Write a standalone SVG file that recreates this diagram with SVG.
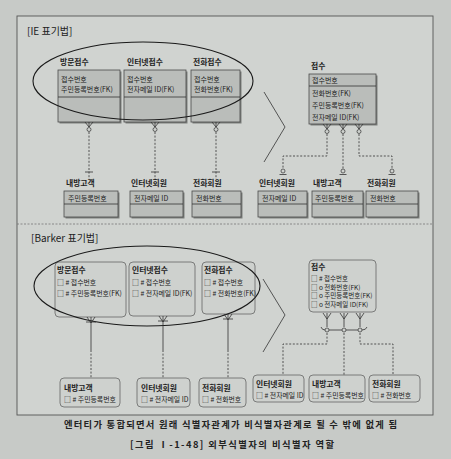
<svg xmlns="http://www.w3.org/2000/svg" width="451" height="459" viewBox="0 0 451 459">
<style>
text{font-family:"Noto Sans CJK KR","Noto Sans",sans-serif;fill:#222}
.sec{font-size:10px}
.lbl{font-size:7.8px;font-weight:bold}
.row{font-size:7px}
.brow{font-size:6.9px}
.mrow{font-size:6.5px}
.cap{font-size:9.3px;font-weight:bold}
.ie{fill:#babdba;stroke:#4a4a4a;stroke-width:0.8}
.sh{fill:#7d807d}
.bk{fill:#ced1ce;stroke:#666;stroke-width:0.8}
.ln{stroke:#333;stroke-width:0.8;fill:none}
.dl{stroke:#333;stroke-width:0.8;fill:none;stroke-dasharray:2 1.6}
.el{stroke:#1a1a1a;stroke-width:1.1;fill:none}
.ci{stroke:#333;stroke-width:0.7;fill:#ced1ce}
</style>
<rect width="451" height="459" fill="#c7cac7"/>
<rect x="17" y="16" width="416" height="399" fill="#d0d3d0" stroke="#555" stroke-width="0.9"/>
<line x1="17" y1="224" x2="433" y2="224" stroke="#777" stroke-width="0.8" stroke-dasharray="2 1.5"/>
<text class="sec" x="27" y="35">[IE 표기법]</text>
<text class="sec" x="31" y="242">[Barker 표기법]</text>

<!-- IE section -->
<g id="ie-visit">
<text class="lbl" x="60" y="65">방문접수</text>
<rect class="sh" x="59.5" y="71.5" width="62" height="52"/>
<rect class="ie" x="58" y="70" width="62" height="52"/>
<line class="ln" x1="58" y1="97" x2="120" y2="97"/>
<text class="row" x="61" y="82">접수번호</text>
<text class="row" x="61" y="92">주민등록번호(FK)</text>
</g>
<g id="ie-internet">
<text class="lbl" x="127" y="65">인터넷접수</text>
<rect class="sh" x="125.5" y="71.5" width="62" height="52"/>
<rect class="ie" x="124" y="70" width="62" height="52"/>
<line class="ln" x1="124" y1="97" x2="186" y2="97"/>
<text class="row" x="127" y="82">접수번호</text>
<text class="row" x="127" y="92">전자메일 ID(FK)</text>
</g>
<g id="ie-phone">
<text class="lbl" x="193" y="65">전화접수</text>
<rect class="sh" x="192.5" y="71.5" width="49" height="52"/>
<rect class="ie" x="191" y="70" width="49" height="52"/>
<line class="ln" x1="191" y1="97" x2="240" y2="97"/>
<text class="row" x="194" y="82">접수번호</text>
<text class="row" x="194" y="92">전화번호(FK)</text>
</g>
<g id="ie-merged">
<text class="lbl" x="311" y="69">접수</text>
<rect class="sh" x="310.5" y="75.5" width="67" height="50"/>
<rect class="ie" x="309" y="74" width="67" height="50"/>
<line class="ln" x1="309" y1="86" x2="376" y2="86"/>
<text class="row" x="312" y="83">접수번호</text>
<text class="row" x="312" y="96">전화번호(FK)</text>
<text class="row" x="312" y="108">주민등록번호(FK)</text>
<text class="row" x="312" y="119.5">전자메일 ID(FK)</text>
</g>
<g id="ie-customer">
<text class="lbl" x="66" y="186">내방고객</text>
<rect class="sh" x="65.5" y="192.5" width="54" height="26"/>
<rect class="ie" x="64" y="191" width="54" height="26"/>
<line class="ln" x1="64" y1="204" x2="118" y2="204"/>
<text class="row" x="68" y="201">주민등록번호</text>
</g>
<g id="ie-netmember">
<text class="lbl" x="131" y="186">인터넷회원</text>
<rect class="sh" x="131.5" y="192.5" width="53" height="26"/>
<rect class="ie" x="130" y="191" width="53" height="26"/>
<line class="ln" x1="130" y1="204" x2="183" y2="204"/>
<text class="row" x="134" y="201">전자메일 ID</text>
</g>
<g id="ie-phonemember">
<text class="lbl" x="193" y="186">전화회원</text>
<rect class="sh" x="193.5" y="192.5" width="49" height="26"/>
<rect class="ie" x="192" y="191" width="49" height="26"/>
<line class="ln" x1="192" y1="204" x2="241" y2="204"/>
<text class="row" x="196" y="201">전화번호</text>
</g>
<g id="ie-netmember2">
<text class="lbl" x="259" y="186">인터넷회원</text>
<rect class="sh" x="259.5" y="192.5" width="49" height="26"/>
<rect class="ie" x="258" y="191" width="49" height="26"/>
<line class="ln" x1="258" y1="204" x2="307" y2="204"/>
<text class="row" x="262" y="201">전자메일 ID</text>
</g>
<g id="ie-customer2">
<text class="lbl" x="313" y="186">내방고객</text>
<rect class="sh" x="313.5" y="192.5" width="51" height="26"/>
<rect class="ie" x="312" y="191" width="51" height="26"/>
<line class="ln" x1="312" y1="204" x2="363" y2="204"/>
<text class="row" x="315" y="201">주민등록번호</text>
</g>
<g id="ie-phonemember2">
<text class="lbl" x="367" y="186">전화회원</text>
<rect class="sh" x="367.5" y="192.5" width="52" height="26"/>
<rect class="ie" x="366" y="191" width="52" height="26"/>
<line class="ln" x1="366" y1="204" x2="418" y2="204"/>
<text class="row" x="370" y="201">전화번호</text>
</g>

<!-- Barker section -->
<g id="bk-visit">
<rect class="bk" x="55" y="262" width="71" height="55" rx="4"/>
<text class="lbl" x="57" y="273">방문접수</text>
<text class="brow" x="57" y="285">□ # 접수번호</text>
<text class="brow" x="57" y="296">□ # 주민등록번호(FK)</text>
</g>
<g id="bk-internet">
<rect class="bk" x="129" y="262" width="66" height="54" rx="4"/>
<text class="lbl" x="132" y="273">인터넷접수</text>
<text class="brow" x="132" y="285">□ # 접수번호</text>
<text class="brow" x="132" y="296">□ # 전자메일 ID(FK)</text>
</g>
<g id="bk-phone">
<rect class="bk" x="202" y="262" width="53" height="52" rx="4"/>
<text class="lbl" x="204" y="273">전화접수</text>
<text class="brow" x="204" y="285">□ # 접수번호</text>
<text class="brow" x="204" y="296">□ # 전화번호(FK)</text>
</g>
<g id="bk-merged">
<rect class="bk" x="309" y="260" width="67" height="52" rx="4"/>
<text class="lbl" x="311" y="270">접수</text>
<text class="mrow" x="311" y="281">□ # 접수번호</text>
<text class="mrow" x="311" y="289.5">□ o 전화번호(FK)</text>
<text class="mrow" x="311" y="298">□ o 주민등록번호(FK)</text>
<text class="mrow" x="311" y="306.5">□ o 전자메일 ID(FK)</text>
</g>
<g id="bk-customer">
<rect class="bk" x="60" y="378" width="60" height="29" rx="4"/>
<text class="lbl" x="64" y="391">내방고객</text>
<text class="brow" x="64" y="402">□ # 주민등록번호</text>
</g>
<g id="bk-netmember">
<rect class="bk" x="137" y="378" width="53" height="29" rx="4"/>
<text class="lbl" x="141" y="391">인터넷회원</text>
<text class="brow" x="141" y="402">□ # 전자메일 ID</text>
</g>
<g id="bk-phonemember">
<rect class="bk" x="199" y="378" width="47" height="29" rx="4"/>
<text class="lbl" x="202" y="391">전화회원</text>
<text class="brow" x="202" y="402">□ # 전화번호</text>
</g>
<g id="bk-netmember2">
<rect class="bk" x="253" y="375" width="51" height="27" rx="4"/>
<text class="lbl" x="256" y="387">인터넷회원</text>
<text class="brow" x="256" y="398">□ # 전자메일 ID</text>
</g>
<g id="bk-customer2">
<rect class="bk" x="309" y="375" width="56" height="27" rx="4"/>
<text class="lbl" x="312" y="387">내방고객</text>
<text class="brow" x="312" y="398">□ # 주민등록번호</text>
</g>
<g id="bk-phonemember2">
<rect class="bk" x="369" y="375" width="51" height="27" rx="4"/>
<text class="lbl" x="372" y="387">전화회원</text>
<text class="brow" x="372" y="398">□ # 전화번호</text>
</g>

<g id="connectors">
<!-- ellipses and transformation arrows -->
<ellipse class="el" cx="143" cy="81" rx="110" ry="39"/>
<ellipse class="el" cx="147" cy="286" rx="113" ry="40"/>
<polyline class="ln" points="264,92 285,127 264,162"/>
<polyline class="ln" points="263,279 285,315 263,352"/>

<!-- IE left relationships -->
<path class="ln" d="M85,122 L89,127 L93,122 M89,122 V127"/>
<circle class="ci" cx="89" cy="129.5" r="2"/>
<line class="dl" x1="89" y1="132" x2="89" y2="179"/>
<line class="ln" x1="85" y1="172" x2="93" y2="172"/>
<path class="ln" d="M151,122 L155,127 L159,122 M155,122 V127"/>
<circle class="ci" cx="155" cy="129.5" r="2"/>
<line class="dl" x1="155" y1="132" x2="155" y2="179"/>
<line class="ln" x1="151" y1="172" x2="159" y2="172"/>
<path class="ln" d="M212,122 L216,127 L220,122 M216,122 V127"/>
<circle class="ci" cx="216" cy="129.5" r="2"/>
<line class="dl" x1="216" y1="132" x2="216" y2="179"/>
<line class="ln" x1="212" y1="172" x2="220" y2="172"/>

<!-- IE right relationships -->
<path class="ln" d="M323,124 L327,129 L331,124 M327,124 V129"/>
<circle class="ci" cx="327" cy="131.5" r="2"/>
<path class="ln" d="M339,124 L343,129 L347,124 M343,124 V129"/>
<circle class="ci" cx="343" cy="131.5" r="2"/>
<path class="ln" d="M355,124 L359,129 L363,124 M359,124 V129"/>
<circle class="ci" cx="359" cy="131.5" r="2"/>
<polyline class="dl" points="327,134 327,156 283,156 283,169"/>
<circle class="ci" cx="283" cy="171" r="2"/>
<line class="ln" x1="279.5" y1="174.5" x2="286.5" y2="174.5"/>
<line class="dl" x1="343" y1="134" x2="343" y2="169"/>
<circle class="ci" cx="343" cy="171" r="2"/>
<line class="ln" x1="339.5" y1="174.5" x2="346.5" y2="174.5"/>
<polyline class="dl" points="359,134 359,156 392,156 392,169"/>
<circle class="ci" cx="392" cy="171" r="2"/>
<line class="ln" x1="388.5" y1="174.5" x2="395.5" y2="174.5"/>

<!-- Barker left relationships -->
<path class="ln" d="M87,317 L91,323 L95,317 M86,322 H96"/>
<line class="ln" x1="91" y1="317" x2="91" y2="350"/>
<line class="dl" x1="91" y1="350" x2="91" y2="378"/>
<path class="ln" d="M159,316 L163,322 L167,316 M158,321 H168"/>
<line class="ln" x1="163" y1="316" x2="163" y2="350"/>
<line class="dl" x1="163" y1="350" x2="163" y2="378"/>
<path class="ln" d="M224,314 L228,320 L232,314 M223,319 H233"/>
<line class="ln" x1="228" y1="314" x2="228" y2="350"/>
<line class="dl" x1="228" y1="350" x2="228" y2="378"/>

<!-- Barker right relationships with exclusive arc -->
<path class="ln" d="M323,313 L327,319 L331,313 M327,313 V327"/>
<path class="ln" d="M340,313 L344,319 L348,313 M344,313 V327"/>
<path class="ln" d="M356,313 L360,319 L364,313 M360,313 V327"/>
<path class="ln" d="M321,327 Q322,330 325,330 H362 Q366,330 367,327"/>
<circle class="ci" cx="327" cy="330" r="2"/>
<circle class="ci" cx="344" cy="330" r="2"/>
<circle class="ci" cx="360" cy="330" r="2"/>
<polyline class="dl" points="327,333 327,344 283,344 283,375"/>
<line class="dl" x1="344" y1="333" x2="344" y2="375"/>
<polyline class="dl" points="360,333 360,344 393,344 393,375"/>
</g>

<text class="cap" x="64" y="428" textLength="333" lengthAdjust="spacing">엔터티가 통합되면서 원래 식별자관계가 비식별자관계로 될 수 밖에 없게 됨</text>
<text class="cap" x="130" y="448" textLength="204" lengthAdjust="spacing">[그림 Ⅰ-1-48] 외부식별자의 비식별자 역할</text>
</svg>
